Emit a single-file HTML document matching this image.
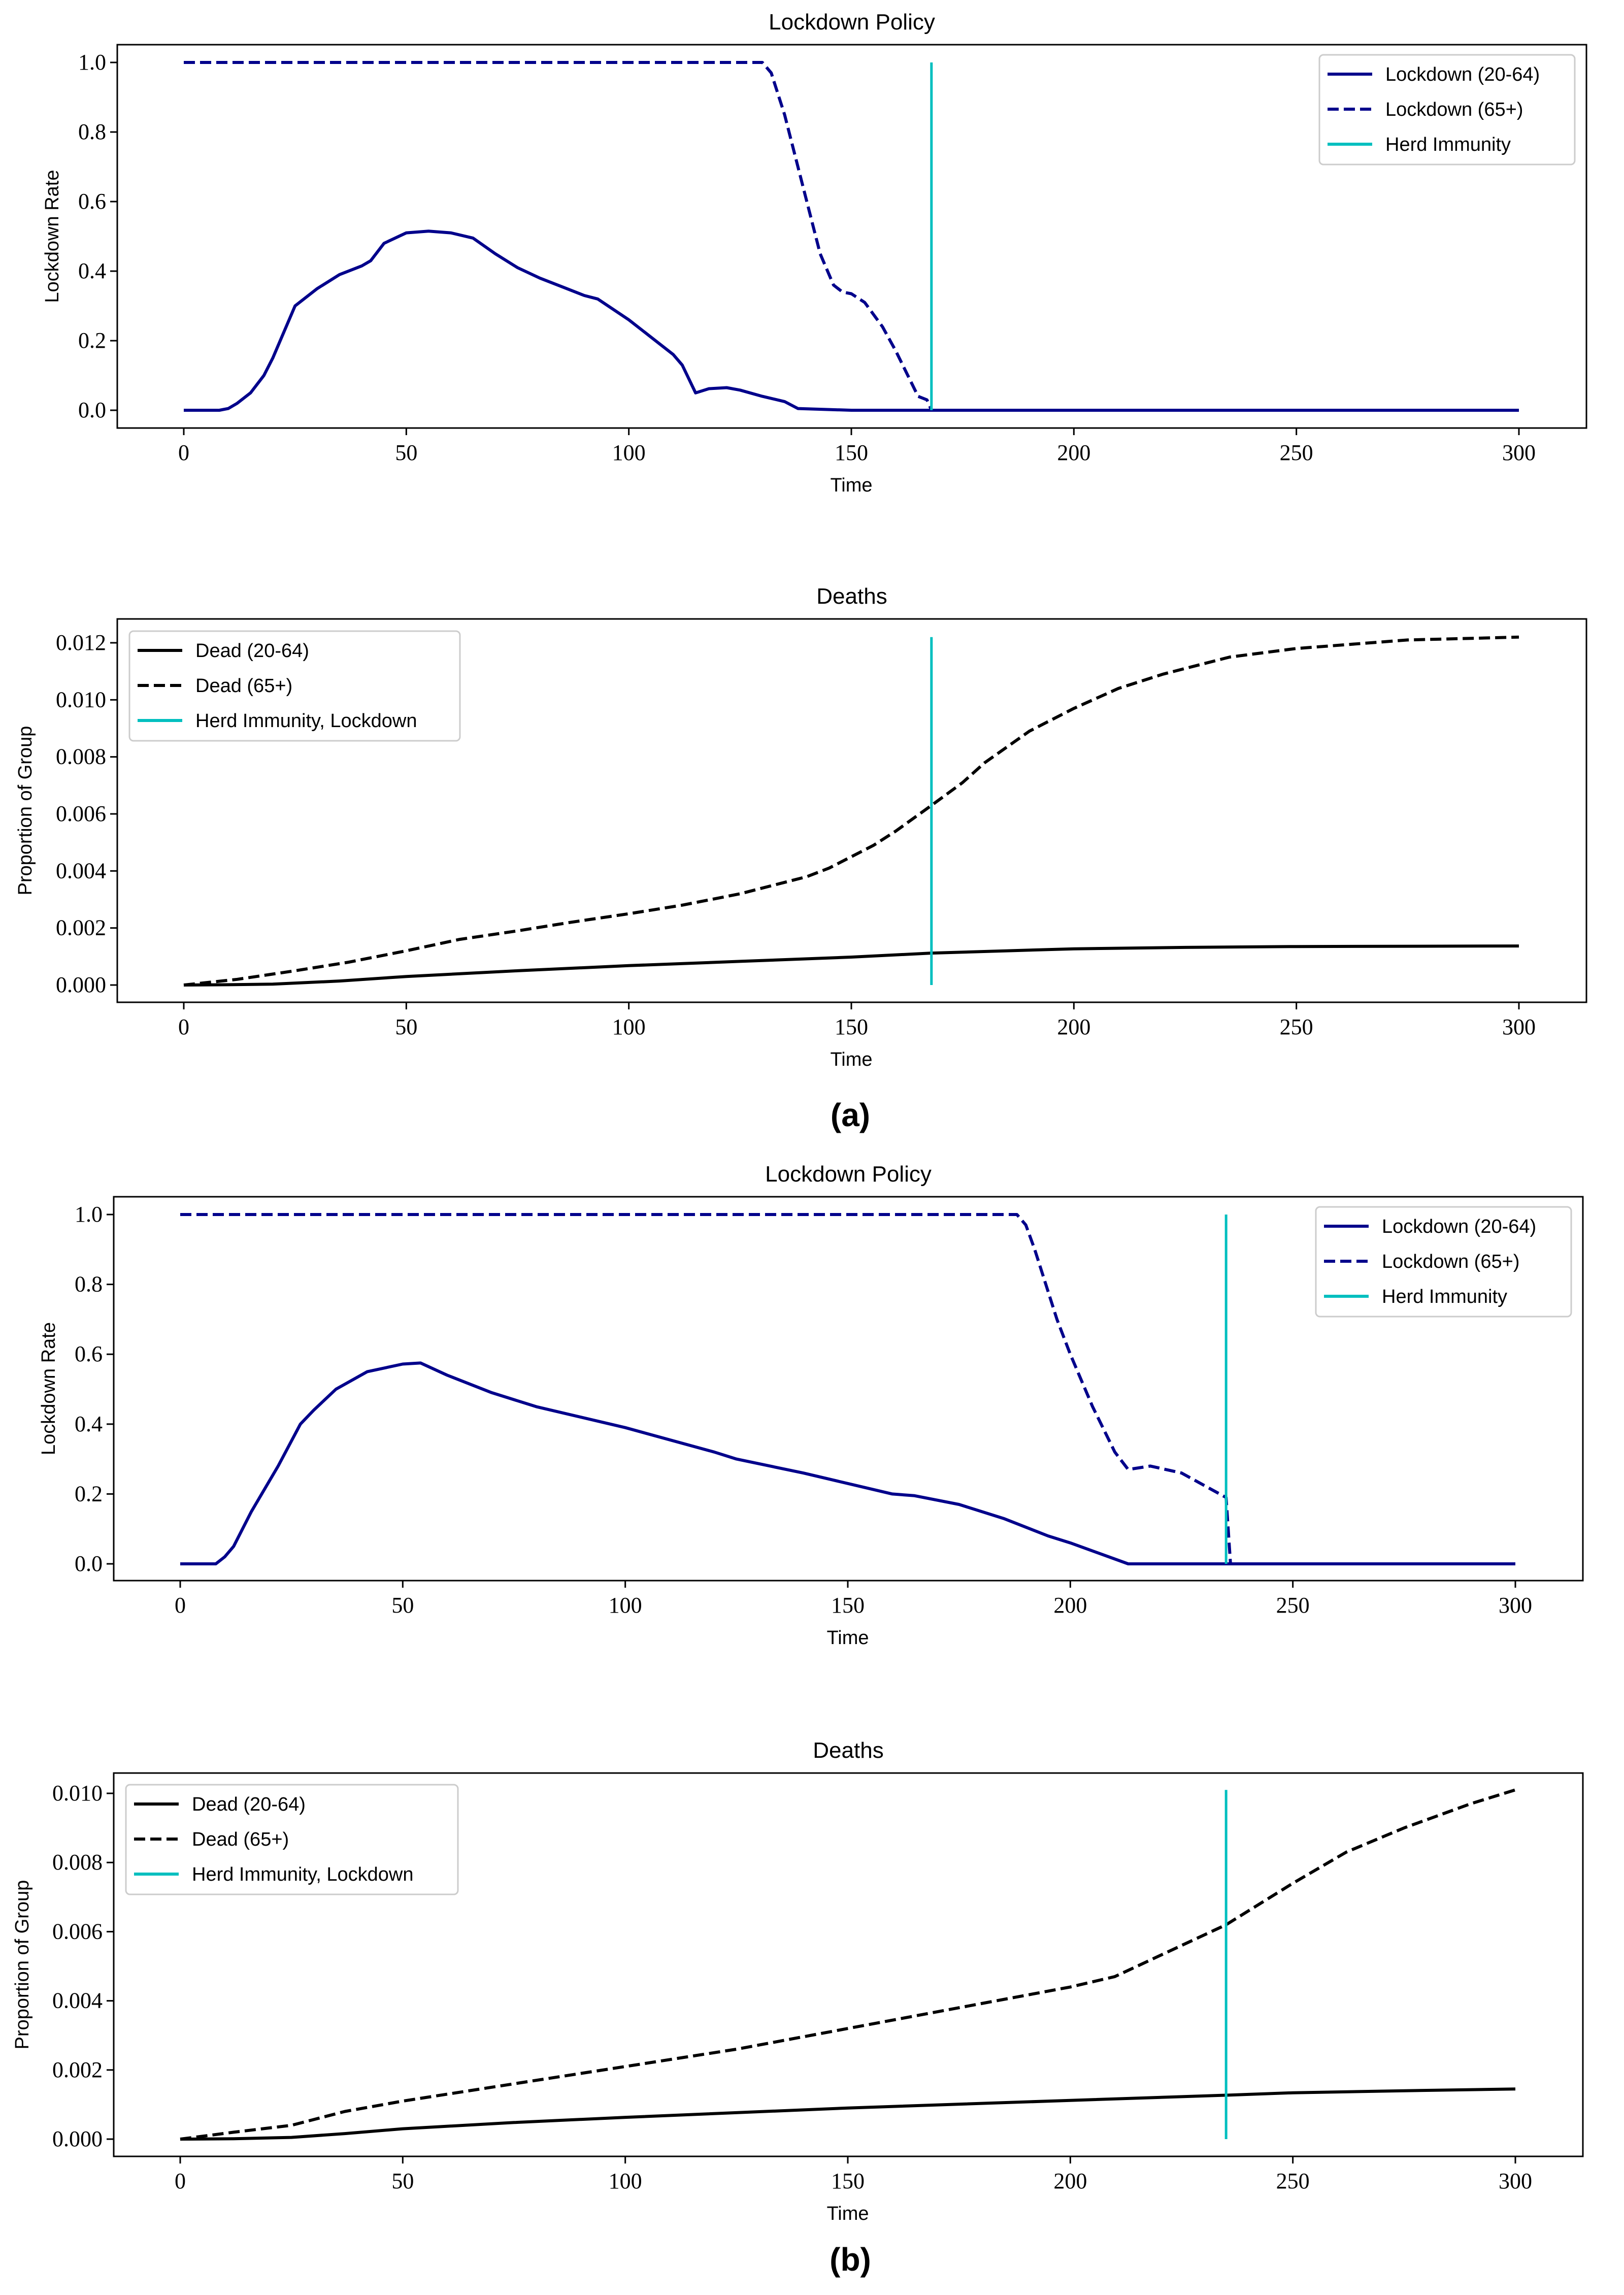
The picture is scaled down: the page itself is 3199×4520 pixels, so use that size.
<!DOCTYPE html>
<html><head><meta charset="utf-8"><style>
body{margin:0;background:#fff;}
svg{display:block;}
.tk{font-family:"Liberation Serif",serif;font-size:44px;fill:#000;}
.tt{font-family:"Liberation Sans",sans-serif;font-size:44px;fill:#000;}
.lg{font-family:"Liberation Sans",sans-serif;font-size:38px;fill:#000;}
</style></head><body>
<svg id="fig" width="3199" height="4520" viewBox="0 0 3199 4520" xmlns="http://www.w3.org/2000/svg">
<text x="1675" y="2218" text-anchor="middle" style="font-family:'Liberation Sans',sans-serif;font-weight:bold;font-size:64px">(a)</text>
<text x="1675" y="4472" text-anchor="middle" style="font-family:'Liberation Sans',sans-serif;font-weight:bold;font-size:64px">(b)</text>
</svg>
<script>
const xTicks=[0,50,100,150,200,250,300];
const lockTicks=[0,0.2,0.4,0.6,0.8,1.0];
const deathTicksA=[0,0.002,0.004,0.006,0.008,0.010,0.012];
const deathTicksB=[0,0.002,0.004,0.006,0.008,0.010];

const aYoungT=[0,8,10,12,15,18,20,22,25,30,35,40,42,45,50,55,60,65,70,75,80,85,90,93,100,105,110,112,115,118,122,125,130,135,138,145,150,300];
const aYoungV=[0,0,0.005,0.02,0.05,0.1,0.15,0.21,0.30,0.35,0.39,0.415,0.43,0.48,0.51,0.515,0.51,0.495,0.45,0.41,0.38,0.355,0.33,0.32,0.26,0.21,0.16,0.13,0.05,0.062,0.065,0.058,0.04,0.025,0.005,0.002,0,0];
const aOldT=[0,130,132,135,140,143,146,148,150,153,157,160,165,167,168,300];
const aOldV=[1,1,0.97,0.85,0.6,0.45,0.36,0.34,0.335,0.31,0.24,0.17,0.04,0.03,0,0];
const aHerd=168;
const aDYoungT=[0,10,20,35,50,75,100,125,150,168,185,200,225,250,300];
const aDYoungV=[0,0.00001,0.00003,0.00014,0.0003,0.0005,0.00068,0.00083,0.00098,0.00112,0.0012,0.00127,0.00132,0.00135,0.00137];
const aDOldT=[0,12,25,37,50,62,75,87,100,112,125,135,140,145,150,155,160,168,175,180,190,200,210,220,235,250,275,300];
const aDOldV=[0,0.0002,0.0005,0.0008,0.0012,0.0016,0.0019,0.0022,0.0025,0.0028,0.0032,0.0036,0.0038,0.0041,0.0045,0.0049,0.0054,0.0063,0.0071,0.0078,0.0089,0.0097,0.0104,0.0109,0.0115,0.0118,0.0121,0.0122];

const bYoungT=[0,8,10,12,16,22,27,30,35,42,50,54,60,70,80,100,120,125,140,160,165,175,185,195,200,213,300];
const bYoungV=[0,0,0.02,0.05,0.15,0.28,0.40,0.44,0.5,0.55,0.572,0.575,0.54,0.49,0.45,0.39,0.32,0.30,0.26,0.2,0.195,0.17,0.13,0.08,0.06,0,0];
const bOldT=[0,188,190,192,197,200,205,210,213,218,225,235,236,300];
const bOldV=[1,1,0.97,0.9,0.7,0.6,0.45,0.32,0.27,0.28,0.26,0.19,0,0];
const bHerd=235;
const bDYoungT=[0,12,25,37,50,75,100,150,200,235,250,275,300];
const bDYoungV=[0,0.00001,0.00005,0.00016,0.0003,0.00048,0.00063,0.0009,0.00112,0.00127,0.00134,0.0014,0.00145];
const bDOldT=[0,12,25,37,50,75,100,125,150,175,200,210,215,225,235,250,262,275,290,300];
const bDOldV=[0,0.0002,0.0004,0.0008,0.0011,0.0016,0.0021,0.0026,0.0032,0.0038,0.0044,0.0047,0.005,0.0056,0.0062,0.0074,0.0083,0.009,0.0097,0.0101];

const NS="http://www.w3.org/2000/svg";
const svg=document.getElementById('fig');
function mk(tag,attrs,parent){const e=document.createElementNS(NS,tag);for(const k in attrs)e.setAttribute(k,attrs[k]);(parent||svg).appendChild(e);return e;}

function panel(cfg){
  const g=mk('g',{});
  
  
  const sx=t=>cfg.x0+(t/300)*(cfg.x300-cfg.x0);
  const sy=v=>cfg.yb+(v/cfg.ymax)*(cfg.yt-cfg.yb);
  const fr=mk('rect',{x:cfg.L,y:cfg.T,width:cfg.R-cfg.L,height:cfg.B-cfg.T,fill:'none',stroke:'#000','stroke-width':3},g);
  
  
  const tt=mk('text',{x:(cfg.L+cfg.R)/2,y:cfg.T-30,'text-anchor':'middle',class:'tt'},g);tt.textContent=cfg.title;
  
  
  xTicks.forEach(t=>{
    mk('line',{x1:sx(t),x2:sx(t),y1:cfg.B,y2:cfg.B+14,stroke:'#000','stroke-width':3},g);
    const e=mk('text',{x:sx(t),y:cfg.B+63,'text-anchor':'middle',class:'tk'},g);e.textContent=t;
    
    
  });
  cfg.yTicks.forEach(v=>{
    mk('line',{x1:cfg.L-14,x2:cfg.L,y1:sy(v),y2:sy(v),stroke:'#000','stroke-width':3},g);
    const e=mk('text',{x:cfg.L-22,y:sy(v)+14,'text-anchor':'end',class:'tk'},g);e.textContent=v.toFixed(cfg.dec);
    
    
  });
  const xl=mk('text',{x:(cfg.x0+cfg.x300)/2,y:cfg.B+125,'text-anchor':'middle',class:'lg'},g);xl.textContent='Time';
  
  
  const yl=mk('text',{x:0,y:0,'text-anchor':'middle',class:'lg',transform:`translate(${cfg.ylX},${(cfg.T+cfg.B)/2}) rotate(-90)`},g);yl.textContent=cfg.ylabel;
  
  
  function line(T,V,color,dash,nm){
    const p=T.map((t,i)=>sx(t).toFixed(1)+','+sy(V[i]).toFixed(1)).join(' ');
    const e=mk('polyline',{points:p,fill:'none',stroke:color,'stroke-width':6,'stroke-linejoin':'round','stroke-dasharray':dash?'22,10':'none'},g);
    
    
  }
  line(cfg.s1T,cfg.s1V,cfg.color,false,'series-20-64');
  line(cfg.s2T,cfg.s2V,cfg.color,true,'series-65-plus');
  const h=mk('line',{x1:sx(cfg.herd),x2:sx(cfg.herd),y1:sy(0),y2:sy(cfg.herdTop),stroke:'#00bfbf','stroke-width':5},g);
  
  
  const lg=mk('g',{},g);
  
  
  const [lx,ly,lw,lh]=cfg.leg;
  mk('rect',{x:lx,y:ly,width:lw,height:lh,rx:8,fill:'#fff',stroke:'#ccc','stroke-width':3},lg);
  const items=[[cfg.l1,cfg.color,false],[cfg.l2,cfg.color,true],[cfg.l3,'#00bfbf',false]];
  items.forEach((it,i)=>{
    const yy=ly+38+i*69;
    mk('line',{x1:lx+16,x2:lx+104,y1:yy,y2:yy,stroke:it[1],'stroke-width':6,'stroke-dasharray':it[2]?'22,10':'none'},lg);
    const e=mk('text',{x:lx+130,y:yy+13,class:'lg'},lg);e.textContent=it[0];
    
    
  });
}
const navy='#00008b';
panel({name:'panel-a-lockdown',L:231,R:3125,T:88,B:843,x0:362,x300:2992,yt:123,yb:808,ymax:1,yTicks:lockTicks,dec:1,title:'Lockdown Policy',ylabel:'Lockdown Rate',ylX:115,
 s1T:aYoungT,s1V:aYoungV,s2T:aOldT,s2V:aOldV,herd:aHerd,herdTop:1,color:navy,leg:[2599,108,503,216],l1:'Lockdown (20-64)',l2:'Lockdown (65+)',l3:'Herd Immunity'});
panel({name:'panel-a-deaths',L:231,R:3125,T:1219,B:1974,x0:362,x300:2992,yt:1266,yb:1940,ymax:0.012,yTicks:deathTicksA,dec:3,title:'Deaths',ylabel:'Proportion of Group',ylX:62,
 s1T:aDYoungT,s1V:aDYoungV,s2T:aDOldT,s2V:aDOldV,herd:aHerd,herdTop:0.0122,color:'#000',leg:[255,1243,651,216],l1:'Dead (20-64)',l2:'Dead (65+)',l3:'Herd Immunity, Lockdown'});
panel({name:'panel-b-lockdown',L:224,R:3118,T:2357,B:3113,x0:355,x300:2985,yt:2392,yb:3080,ymax:1,yTicks:lockTicks,dec:1,title:'Lockdown Policy',ylabel:'Lockdown Rate',ylX:108,
 s1T:bYoungT,s1V:bYoungV,s2T:bOldT,s2V:bOldV,herd:bHerd,herdTop:1,color:navy,leg:[2592,2377,503,216],l1:'Lockdown (20-64)',l2:'Lockdown (65+)',l3:'Herd Immunity'});
panel({name:'panel-b-deaths',L:224,R:3118,T:3492,B:4247,x0:355,x300:2985,yt:3532,yb:4213,ymax:0.010,yTicks:deathTicksB,dec:3,title:'Deaths',ylabel:'Proportion of Group',ylX:56,
 s1T:bDYoungT,s1V:bDYoungV,s2T:bDOldT,s2V:bDOldV,herd:bHerd,herdTop:0.0101,color:'#000',leg:[248,3515,654,216],l1:'Dead (20-64)',l2:'Dead (65+)',l3:'Herd Immunity, Lockdown'});
</script>
</body></html>
